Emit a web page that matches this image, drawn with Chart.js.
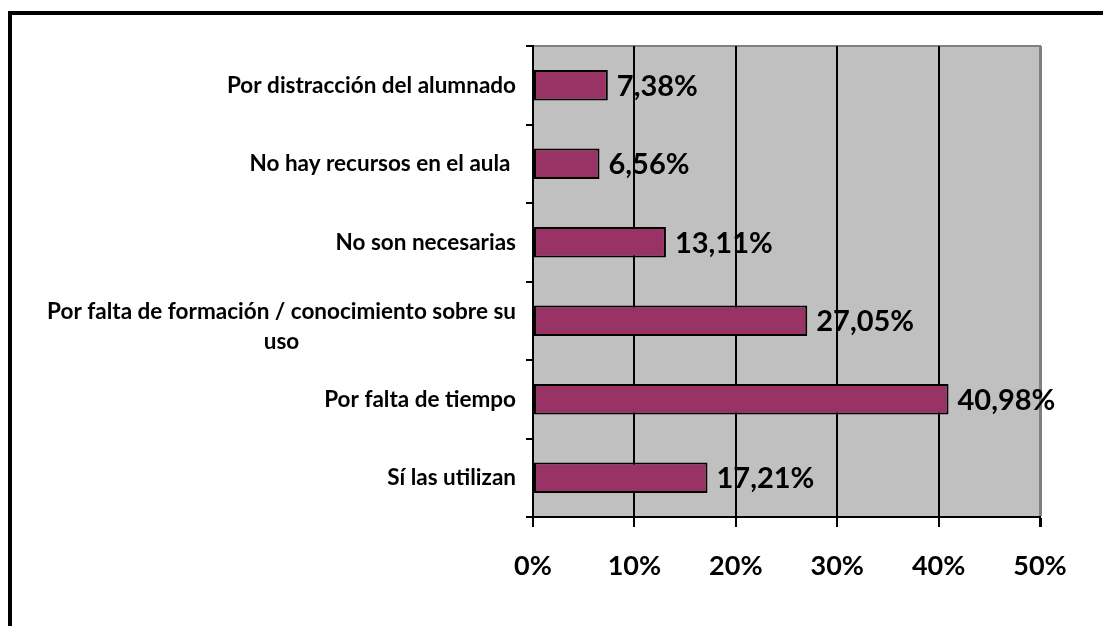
<!DOCTYPE html>
<html>
<head>
<meta charset="utf-8">
<style>
  html, body { margin: 0; padding: 0; background: #fff; }
  #wrap { position: relative; width: 1103px; height: 626px; overflow: hidden; }
  #frame { position: absolute; left: 8px; top: 11px; width: 1200px; height: 700px;
           border-left: 4px solid #000; border-top: 4px solid #000; }
  canvas { position: absolute; left: 0; top: 0; }
</style>
<script src="https://cdn.jsdelivr.net/npm/chart.js@4.4.7/dist/chart.umd.min.js"></script>
</head>
<body>
<div id="wrap">
  <div id="frame"></div>
  <canvas id="chart" width="1103" height="626"></canvas>
</div>
<script>
var categories = [
  'Por distracción del alumnado',
  'No hay recursos en el aula ',
  'No son necesarias',
  ['Por falta de formación / conocimiento sobre su', 'uso'],
  'Por falta de tiempo',
  'Sí las utilizan'
];
var values = [7.38, 6.56, 13.11, 27.05, 40.98, 17.21];
var xTicks = [0, 10, 20, 30, 40, 50];

var FONT = 'Lato, "Open Sans", sans-serif';

// plot background + gray top border
var plotBg = {
  id: 'plotBg',
  beforeDraw: function (chart) {
    var a = chart.chartArea, c = chart.ctx;
    c.save();
    c.fillStyle = '#c0c0c0';
    c.fillRect(a.left, a.top, a.right - a.left, a.bottom - a.top);
    c.strokeStyle = '#808080';
    c.lineWidth = 2;
    c.beginPath();
    c.moveTo(a.left, a.top);
    c.lineTo(a.right + 1, a.top);
    c.stroke();
    c.restore();
  }
};

// category labels: each block right aligned, lines centred inside it
var catLabels = {
  id: 'catLabels',
  afterDraw: function (chart) {
    var y = chart.scales.y, c = chart.ctx;
    var right = chart.chartArea.left - 17;
    c.save();
    c.font = 'bold 22.5px ' + FONT;
    c.fillStyle = '#000';
    c.textAlign = 'center';
    c.textBaseline = 'middle';
    categories.forEach(function (lab, i) {
      var lines = Array.isArray(lab) ? lab : [lab];
      var w = 0;
      lines.forEach(function (l) { w = Math.max(w, c.measureText(l).width); });
      var yc = y.getPixelForValue(i);
      var lh = 30;
      var off = lines.length > 1 ? 6 : 0;
      lines.forEach(function (l, j) {
        c.fillText(l, right - w / 2, yc + off + (j - (lines.length - 1) / 2) * lh);
      });
    });
    c.restore();
  }
};

// value labels to the right of each bar
var valueLabels = {
  id: 'valueLabels',
  afterDatasetsDraw: function (chart) {
    var meta = chart.getDatasetMeta(0), c = chart.ctx;
    c.save();
    c.font = 'bold 29px ' + FONT;
    c.fillStyle = '#000';
    c.textAlign = 'left';
    c.textBaseline = 'middle';
    meta.data.forEach(function (bar, i) {
      var txt = values[i].toFixed(2).replace('.', ',') + '%';
      c.fillText(txt, bar.x + 9, bar.y + 1);
    });
    c.restore();
  }
};

new Chart(document.getElementById('chart').getContext('2d'), {
  type: 'bar',
  data: {
    labels: categories,
    datasets: [{
      data: values,
      backgroundColor: '#993366',
      borderColor: '#000',
      borderWidth: 2,
      borderSkipped: false,
      categoryPercentage: 1,
      barPercentage: 0.39
    }]
  },
  options: {
    indexAxis: 'y',
    responsive: false,
    animation: false,
    layout: { padding: { left: 0, right: 63, top: 46, bottom: 0 } },
    plugins: { legend: { display: false }, tooltip: { enabled: false } },
    scales: {
      y: {
        type: 'category',
        offset: true,
        afterFit: function (s) { s.width = 533; },
        grid: {
          offset: true,
          drawOnChartArea: false,
          color: '#000',
          lineWidth: 2,
          tickLength: 7
        },
        border: { color: '#000', width: 2 },
        ticks: { display: false }
      },
      x: {
        min: 0,
        max: 50,
        afterFit: function (s) { s.height = 626 - 517; },
        afterBuildTicks: function (s) {
          s.ticks = xTicks.map(function (v) { return { value: v }; });
        },
        grid: {
          color: function (ctx) {
            return ctx.tick && ctx.tick.value === 50 ? '#808080' : '#000';
          },
          lineWidth: function (ctx) {
            return ctx.tick && ctx.tick.value === 50 ? 3 : 2;
          },
          tickColor: '#000',
          tickLength: 10
        },
        border: { color: '#000', width: 2 },
        ticks: {
          color: '#000',
          padding: 23,
          maxRotation: 0,
          font: { family: FONT, size: 27, weight: 'bold' },
          callback: function (v) { return v + '%'; }
        }
      }
    }
  },
  plugins: [plotBg, catLabels, valueLabels]
});
</script>
</body>
</html>
